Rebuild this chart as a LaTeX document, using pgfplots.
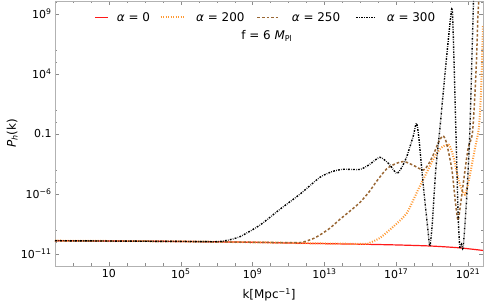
\documentclass[border=0pt]{standalone}
\usepackage{fontspec}
\setmainfont{DejaVu Sans}
\usepackage{pgfplots}
\pgfplotsset{compat=1.18}
\definecolor{cred}{rgb}{1,0.1,0.1}
\definecolor{corange}{rgb}{1,0.6,0.2}
\definecolor{cbrown}{rgb}{0.6,0.4,0.2}
\tikzset{
  sred/.style={color=cred, line width=1.2bp, solid},
  sorange/.style={color=corange, line width=2bp, dash pattern=on 1bp off 1.5bp},
  sbrown/.style={color=cbrown, line width=1.5bp, dash pattern=on 2.6bp off 2bp},
  sblack/.style={color=black, line width=1.4bp, dash pattern=on 1.8bp off 1.3bp on 0.6bp off 1.3bp},
  legtxt/.style={anchor=base west, inner sep=0pt, font=\fontsize{12}{14}\selectfont},
}
\begin{document}
\begin{tikzpicture}
\path[use as bounding box] (0,0) rectangle (485bp,307bp);
\begin{axis}[
  at={(55bp,41.3bp)}, anchor=south west,
  scale only axis, width=428bp, height=264.7bp,
  xmode=log, ymode=log,
  xmin=1e-2, xmax=6.76e21, ymin=1.07e-12, ymax=1.2e10,
  axis line style={black!30},
  tick style={black!45},
  tick align=inside,
  major tick length=4bp, minor tick length=2.5bp,
  xtick={1e1,1e5,1e9,1e13,1e17,1e21},
  xticklabels={10,10\textsuperscript{5},10\textsuperscript{9},10\textsuperscript{13},10\textsuperscript{17},10\textsuperscript{21}},
  minor xtick={1e-1,1,1e2,1e3,1e4,1e6,1e7,1e8,1e10,1e11,1e12,1e14,1e15,1e16,1e18,1e19,1e20},
  ytick={1e-11,1e-6,1e-1,1e4,1e9},
  yticklabels={10\textsuperscript{−11},10\textsuperscript{−6},0.1,10\textsuperscript{4},10\textsuperscript{9}},
  minor ytick={1e-10,1e-9,1e-5,1e-4,1,1e1,1e5,1e6,1e10},
  ticklabel style={font=\fontsize{11}{13}\selectfont},
  xlabel={k[Mpc\textsuperscript{−1}]},
  ylabel={\textit{P}\textsubscript{\textit{h}}(k)},
  label style={font=\fontsize{12}{14}\selectfont},
  xlabel style={at={(axis description cs:0.5,-0.111)}, anchor=center},
  ylabel style={at={(axis description cs:-0.1,0.5)}, anchor=center},
  clip=true,
]
\addplot[sred, smooth, tension=0.4] coordinates {
(1e-2,1.29e-10) (1e5,1.12e-10) (1e9,9.55e-11) (4.47e11,7.94e-11) (1e15,6.61e-11)
(1e17,5.75e-11) (7.94e18,4.68e-11) (3.16e20,3.31e-11) (6.76e21,2.0e-11)
};
\addplot[sorange, smooth, tension=0.4] coordinates {
(1e-2,1.29e-10) (1e5,1.12e-10) (1e9,9.55e-11) (1e13,7.59e-11) (2.0e15,7.08e-11)
(3.47e15,8.91e-11) (1.26e16,2.24e-10) (7.08e16,2.0e-9) (3.80e17,2.51e-8)
(1.58e18,2.0e-6) (3.98e18,3.16e-5) (1.38e19,1.26e-3) (3.16e19,7.08e-3)
(8.51e19,1.26e-2) (1.58e20,1e-3) (3.16e20,1e-5) (6.61e20,8.91e-7)
(1.12e21,1.58e-5) (2.34e21,5.01e-3) (3.98e21,0.316) (5.25e21,316) (6.76e21,1e8)
};
\addplot[sbrown, smooth, tension=0.4] coordinates {
(1e-2,1.29e-10) (1e5,1.12e-10) (1e9,9.55e-11) (3.16e11,8.91e-11) (8.51e11,1.12e-10)
(2.51e12,2.0e-10) (5.75e12,3.98e-10) (2.0e13,1.41e-9) (7.41e13,7.94e-9)
(2.51e14,3.55e-8) (9.55e14,2.0e-7) (3.16e15,1.58e-6) (7.94e15,1.12e-5)
(2.95e16,1.26e-4) (1e17,3.55e-4) (2.82e17,5.01e-4) (8.71e17,2.51e-4)
(3.16e18,1e-4) (6.31e18,3.16e-4) (1.26e19,2.51e-3) (2.24e19,2.0e-2)
(3.98e19,7.08e-2) (6.31e19,1.78e-2) (1.26e20,1e-4) (2.0e20,1.58e-7)
(2.75e20,6.31e-9) (3.55e20,6.31e-8) (5.75e20,1.58e-5) (1e21,6.31e-3)
(1.78e21,0.158) (2.82e21,3.16e4) (3.55e21,1e9) (4.17e21,3.16e10) (5.01e21,1e12)
};
\addplot[sblack, smooth, tension=0.4] coordinates {
(1e-2,1.29e-10) (1e5,1.12e-10) (1e7,1.07e-10) (3.98e7,1.41e-10) (2.0e8,2.82e-10)
(2.51e9,2.51e-9) (3.16e10,5.01e-8) (4.47e11,1e-6) (5.75e12,2.51e-5)
(3.16e13,7.94e-5) (1.17e14,1.15e-4) (9.55e14,1.12e-4) (3.16e15,2.82e-4)
(1.23e16,1.15e-3) (3.98e16,3.16e-4) (1.05e17,5.25e-5) (2.0e17,1.58e-4)
(3.80e17,1.26e-3) (8.71e17,6.31e-2) (1.32e18,0.794) (1.78e18,6.31e-2)
(3.16e18,6.31e-6) (5.62e18,1.58e-9) (7.41e18,4.47e-11) (1e19,2.51e-9)
(1.58e19,1e-4) (2.63e19,0.2) (5.01e19,6.31e3) (8.91e19,3.98e7)
(1.29e20,2.95e9) (1.58e20,1e6) (2.09e20,0.2) (2.82e20,1e-8)
(3.47e20,3.55e-11) (4.27e20,6.31e-11) (5.25e20,3.16e-11) (7.08e20,1e-8)
(8.91e20,3.16e-6) (1.26e21,0.2) (2.0e21,1.26e10) (2.51e21,1e13)
};
\node[font=\fontsize{12}{14}\selectfont] at (axis description cs:0.495,0.867) {f = 6 \textit{M}\textsubscript{Pl}};
\end{axis}
% legend
\begin{scope}
\color{cred}
\draw[line width=1.3bp] (95bp,289.7bp) -- (108bp,289.7bp);
\end{scope}
\node[legtxt] at (116.7bp,285.4bp) {\textit{α} = 0};
\draw[sorange] (160.7bp,289.7bp) -- (185bp,289.7bp);
\node[legtxt] at (196bp,285.4bp) {\textit{α} = 200};
\draw[sbrown] (257.3bp,289.7bp) -- (280bp,289.7bp);
\node[legtxt] at (291.7bp,285.4bp) {\textit{α} = 250};
\draw[sblack] (356bp,289.7bp) -- (375bp,289.7bp);
\node[legtxt] at (386.7bp,285.4bp) {\textit{α} = 300};
\end{tikzpicture}
\end{document}
